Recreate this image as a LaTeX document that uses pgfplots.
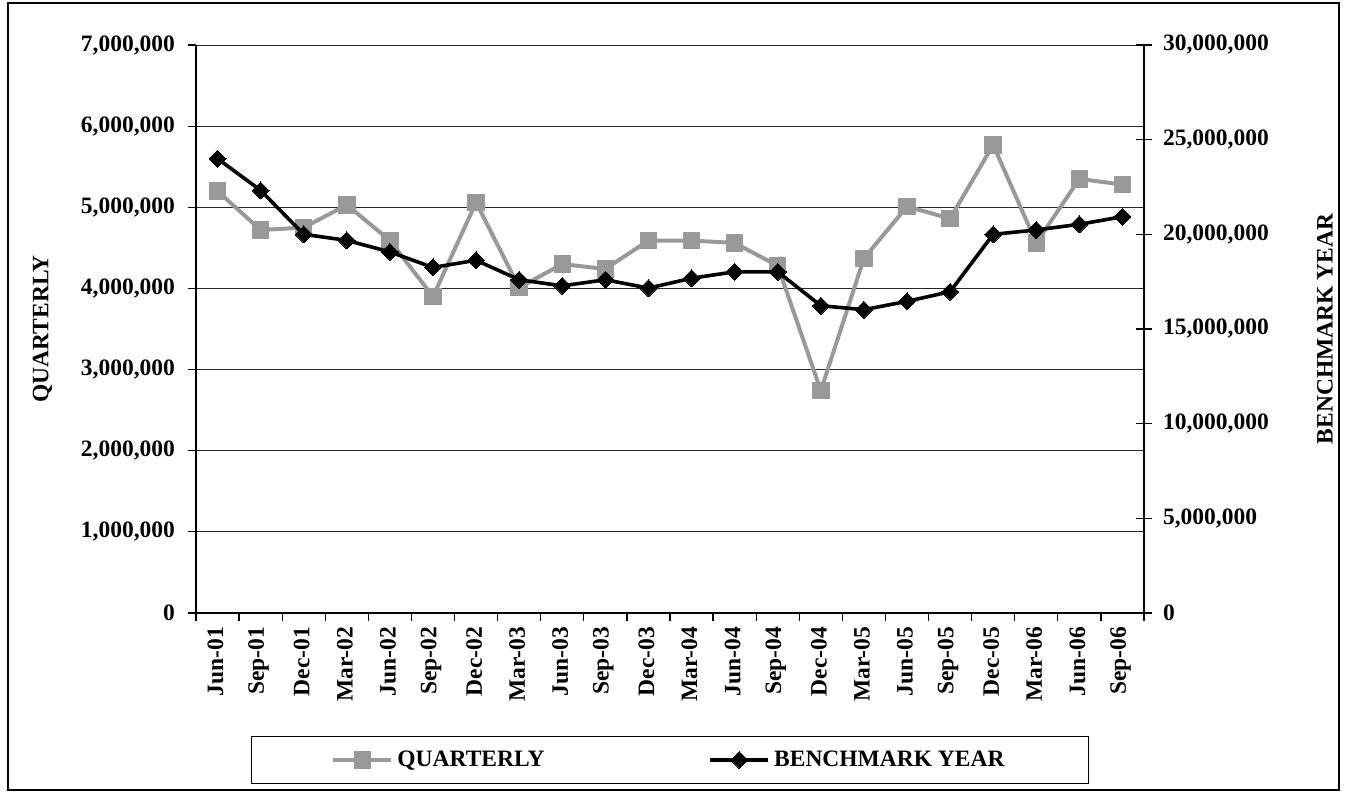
\documentclass[border=0pt]{standalone}
\usepackage{fontspec}
\setmainfont{Liberation Serif}
\usepackage{pgfplots}
\pgfplotsset{compat=1.18}
\definecolor{qgray}{HTML}{999999}

\begin{document}
\begin{tikzpicture}[font=\bfseries\fontsize{11.75}{14}\selectfont]
\useasboundingbox (0,0) rectangle (672.5pt,396pt);
\draw[line width=0.7pt] (4pt,1pt) rectangle (669.5pt,394.5pt);

% left axis: quarterly
\begin{axis}[
  at={(98pt,89.5pt)}, anchor=south west,
  scale only axis, width=474pt, height=284pt,
  xmin=-0.5, xmax=21.5, ymin=0, ymax=7000000,
  axis x line*=bottom, axis y line*=left,
  axis line style={line width=0.6pt},
  tick align=outside, major tick length=4pt,
  tick style={black, line width=0.6pt},
  xtick={-0.5,0.5,...,21.5}, xticklabels={},
  extra x ticks={0,...,21},
  extra x tick labels={Jun-01,Sep-01,Dec-01,Mar-02,Jun-02,Sep-02,Dec-02,Mar-03,Jun-03,Sep-03,Dec-03,Mar-04,Jun-04,Sep-04,Dec-04,Mar-05,Jun-05,Sep-05,Dec-05,Mar-06,Jun-06,Sep-06},
  extra x tick style={major tick length=0pt, grid=none},
  xticklabel style={rotate=90, anchor=east, xshift=-3.5pt, yshift=1pt},
  ytick={0,1000000,2000000,3000000,4000000,5000000,6000000,7000000},
  scaled y ticks=false,
  yticklabel style={xshift=-3pt, /pgf/number format/.cd, fixed, precision=0, 1000 sep={,}, assume math mode=true},
  ymajorgrids, grid style={black!85, line width=0.5pt},
  ylabel={QUARTERLY},
  every axis y label/.style={at={(axis description cs:-0.162,0.5)}, rotate=90, anchor=center},
]
\addplot[qgray, line width=2pt, mark=square*, mark size=4.1pt, mark options={fill=qgray, draw=qgray, line width=0pt}]
  coordinates {
  (0,5200000) (1,4720000) (2,4750000) (3,5030000) (4,4590000) (5,3900000)
  (6,5060000) (7,4010000) (8,4300000) (9,4240000) (10,4590000) (11,4590000)
  (12,4560000) (13,4280000) (14,2740000) (15,4370000) (16,5010000) (17,4860000)
  (18,5770000) (19,4560000) (20,5350000) (21,5280000)};
\end{axis}

% right axis: benchmark year
\begin{axis}[
  at={(98pt,89.5pt)}, anchor=south west,
  scale only axis, width=474pt, height=284pt,
  xmin=-0.5, xmax=21.5, ymin=0, ymax=30000000,
  axis x line=none, axis y line*=right,
  axis line style={line width=0.6pt},
  tick align=center, major tick length=8pt,
  tick style={black, line width=0.6pt},
  ytick={0,5000000,10000000,15000000,20000000,25000000,30000000},
  scaled y ticks=false,
  yticklabel style={xshift=2pt, /pgf/number format/.cd, fixed, precision=0, 1000 sep={,}, assume math mode=true},
  ylabel={BENCHMARK YEAR},
  every axis y label/.style={at={(axis description cs:1.191,0.5)}, rotate=90, anchor=center},
  legend columns=2,
  legend style={at={(axis description cs:0.5,-0.2588)}, anchor=center,
    draw=black, line width=0.6pt, inner xsep=40pt, inner ysep=5pt,
    /tikz/every even column/.append style={column sep=80pt}},
  legend image code/.code={\draw[mark repeat=2, mark phase=2] plot coordinates {(0pt,0pt) (14.5pt,0pt) (29pt,0pt)};},
]
\addlegendimage{qgray, line width=2pt, mark=square*, mark size=4.1pt, mark options={fill=qgray, draw=qgray, line width=0pt}}
\addlegendentry{QUARTERLY}
\addplot[black, line width=1.8pt, mark=square*, mark size=3pt, mark options={rotate=45, fill=black, line width=0pt}]
  coordinates {
  (0,24000000) (1,22320000) (2,20000000) (3,19680000) (4,19070000) (5,18250000)
  (6,18630000) (7,17600000) (8,17280000) (9,17600000) (10,17160000) (11,17680000)
  (12,18020000) (13,18020000) (14,16230000) (15,16020000) (16,16460000) (17,16970000)
  (18,20000000) (19,20230000) (20,20530000) (21,20930000)};
\addlegendentry{BENCHMARK YEAR}
\end{axis}
\end{tikzpicture}
\end{document}
